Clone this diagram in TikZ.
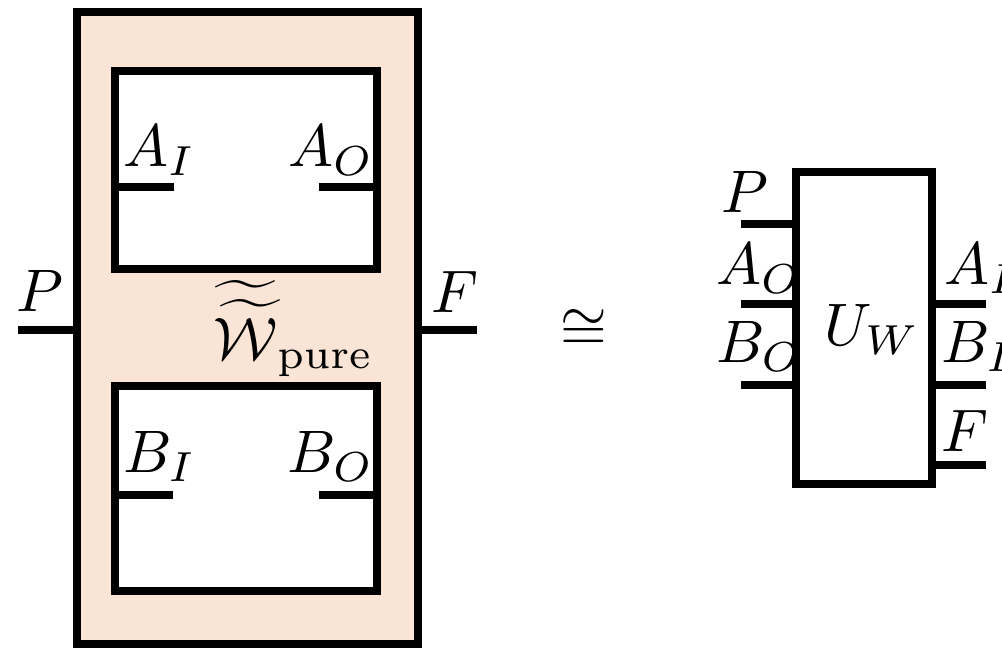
\documentclass[tikz,border=0pt]{standalone}
\usepackage{amsmath}
\definecolor{peach}{RGB}{250,228,214}
\begin{document}
\begin{tikzpicture}[x=0.166667pt,y=-0.166667pt,
  lbl/.style={inner sep=0pt, font=\normalsize},
  box/.style={draw=black, line width=1.3333pt, inner sep=0pt, rectangle},
  wire/.style={line width=1.3333pt}]
\useasboundingbox (0,0) rectangle (1002,650);
% left diagram
\node[box, fill=peach, minimum width=56.833pt, minimum height=105.333pt] (outer) at (247.5,328) {};
\node[box, fill=white, minimum width=43.667pt, minimum height=33pt] (tin) at (246,170) {};
\node[box, fill=white, minimum width=43.667pt, minimum height=34.167pt] (bin) at (246,488.5) {};
\coordinate (pend) at (18,330);
\coordinate (fend) at (477,330);
\coordinate (aiend) at (174,187);
\coordinate (aoend) at (319,187);
\coordinate (biend) at (173,495);
\coordinate (boend) at (319,495);
\draw[wire] (pend) -- (pend -| outer.west);
\draw[wire] (outer.east |- fend) -- (fend);
\draw[wire] (tin.west |- aiend) -- (aiend);
\draw[wire] (aoend) -- (aoend -| tin.east);
\draw[wire] (bin.west |- biend) -- (biend);
\draw[wire] (boend) -- (boend -| bin.east);
\node[lbl, anchor=base west] (lP) at (15,312) {$P$};
\node[lbl, anchor=base west] (lF) at (430,313) {$F$};
\node[lbl, anchor=base west] (lAI) at (122,167) {$A_I$};
\node[lbl, anchor=base east] (lAO) at (375,167) {$A_O$};
\node[lbl, anchor=base west] (lBI) at (122,473) {$B_I$};
\node[lbl, anchor=base east] (lBO) at (375,473) {$B_O$};
\node[lbl, anchor=base west] (lW) at (212,360) {$\widetilde{\widetilde{\mathcal{W}}}_{\mathrm{pure}}$};
% iso
\node[lbl] (iso) at (584,330) {$\cong$};
% right diagram
\node[box, fill=white, minimum width=22.667pt, minimum height=52pt] (U) at (864,328) {};
\node[lbl] (lU) at (872,330) {$U_W$};
\coordinate (rP) at (741,224);
\coordinate (rAO) at (741,304);
\coordinate (rBO) at (741,385);
\coordinate (rAI) at (986,304);
\coordinate (rBI) at (986,385);
\coordinate (rF) at (986,465);
\draw[wire] (rP) -- (rP -| U.west);
\draw[wire] (rAO) -- (rAO -| U.west);
\draw[wire] (rBO) -- (rBO -| U.west);
\draw[wire] (U.east |- rAI) -- (rAI);
\draw[wire] (U.east |- rBI) -- (rBI);
\draw[wire] (U.east |- rF) -- (rF);
\node[lbl, anchor=base west] (rlP) at (720,213) {$P$};
\node[lbl, anchor=base west] (rlAO) at (715,285) {$A_O$};
\node[lbl, anchor=base west] (rlBO) at (715,363) {$B_O$};
\node[lbl, anchor=base west] (rlAI) at (943,285) {$A_I$};
\node[lbl, anchor=base west] (rlBI) at (940,363) {$B_I$};
\node[lbl, anchor=base west] (rlF) at (940,452) {$F$};
\end{tikzpicture}
\end{document}
